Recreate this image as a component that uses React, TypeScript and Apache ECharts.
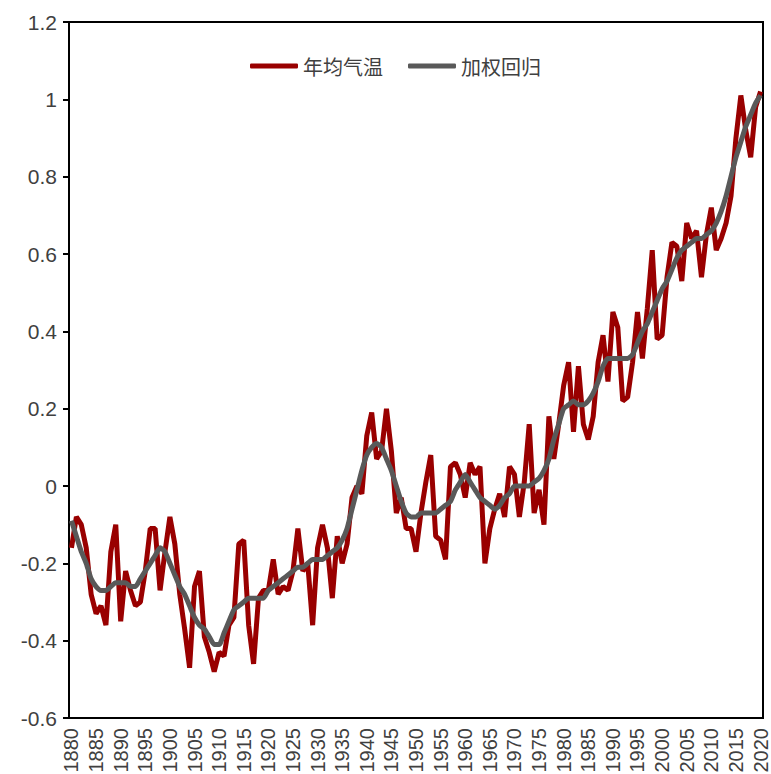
import React, { useEffect, useRef } from "react";
import * as echarts from "echarts";

const years: string[] = [];
for (let y = 1880; y <= 2020; y++) years.push(String(y));

const annualTemp: number[] = [
  -0.16, -0.08, -0.10, -0.16, -0.28, -0.33, -0.31, -0.36, -0.17, -0.10,
  -0.35, -0.22, -0.27, -0.31, -0.30, -0.22, -0.11, -0.11, -0.27, -0.17,
  -0.08, -0.15, -0.28, -0.37, -0.47, -0.26, -0.22, -0.39, -0.43, -0.48,
  -0.43, -0.44, -0.36, -0.34, -0.15, -0.14, -0.36, -0.46, -0.29, -0.27,
  -0.27, -0.19, -0.28, -0.26, -0.27, -0.22, -0.11, -0.22, -0.20, -0.36,
  -0.16, -0.10, -0.16, -0.29, -0.13, -0.20, -0.15, -0.03, -0.00, -0.02,
  0.13, 0.19, 0.07, 0.09, 0.20, 0.09, -0.07, -0.03, -0.11, -0.11,
  -0.17, -0.07, 0.01, 0.08, -0.13, -0.14, -0.19, 0.05, 0.06, 0.03,
  -0.03, 0.06, 0.03, 0.05, -0.20, -0.11, -0.06, -0.02, -0.08, 0.05,
  0.03, -0.08, 0.01, 0.16, -0.07, -0.01, -0.10, 0.18, 0.07, 0.16,
  0.26, 0.32, 0.14, 0.31, 0.16, 0.12, 0.18, 0.32, 0.39, 0.27,
  0.45, 0.41, 0.22, 0.23, 0.32, 0.45, 0.33, 0.46, 0.61, 0.38,
  0.39, 0.54, 0.63, 0.62, 0.53, 0.68, 0.64, 0.66, 0.54, 0.65,
  0.72, 0.61, 0.64, 0.68, 0.75, 0.90, 1.01, 0.92, 0.85, 0.98,
  1.02,
];

const weightedRegression: number[] = [
  -0.09, -0.13, -0.17, -0.20, -0.24, -0.26, -0.27, -0.27, -0.26, -0.25,
  -0.25, -0.25, -0.26, -0.26, -0.24, -0.22, -0.20, -0.18, -0.16, -0.17,
  -0.20, -0.23, -0.26, -0.28, -0.31, -0.34, -0.36, -0.37, -0.39, -0.41,
  -0.41, -0.38, -0.35, -0.32, -0.31, -0.30, -0.29, -0.29, -0.29, -0.29,
  -0.27, -0.26, -0.25, -0.24, -0.23, -0.22, -0.21, -0.21, -0.20, -0.19,
  -0.19, -0.19, -0.18, -0.17, -0.16, -0.14, -0.11, -0.06, -0.01, 0.04,
  0.08, 0.10, 0.11, 0.10, 0.07, 0.04, 0.00, -0.04, -0.07, -0.08,
  -0.08, -0.07, -0.07, -0.07, -0.07, -0.06, -0.05, -0.04, -0.01, 0.01,
  0.03, 0.01, -0.01, -0.03, -0.04, -0.05, -0.06, -0.05, -0.03, -0.02,
  0.00, 0.00, 0.00, 0.00, 0.01, 0.02, 0.04, 0.07, 0.12, 0.16,
  0.20, 0.21, 0.22, 0.21, 0.21, 0.22, 0.24, 0.27, 0.31, 0.33,
  0.33, 0.33, 0.33, 0.33, 0.34, 0.37, 0.40, 0.42, 0.45, 0.48,
  0.51, 0.53, 0.56, 0.59, 0.61, 0.62, 0.63, 0.64, 0.64, 0.65,
  0.66, 0.68, 0.71, 0.75, 0.80, 0.85, 0.89, 0.93, 0.96, 0.99,
  1.01,
];

const yTicks = { min: -0.6, max: 1.2, interval: 0.2 };

export default function App() {
  const ref = useRef<HTMLDivElement>(null);
  useEffect(() => {
    if (!ref.current) return;
    const chart = echarts.init(ref.current, undefined, { renderer: "svg" });
    const textColor = "#404040";
    chart.setOption({
      animation: false,
      backgroundColor: "#ffffff",
      grid: {
        left: 69,
        top: 22,
        right: 8,
        bottom: 56,
        containLabel: false,
        outerBoundsMode: "none",
        show: true,
        borderColor: "#000",
        borderWidth: 2,
      },
      legend: {
        left: 245,
        top: 51,
        icon: "roundRect",
        itemWidth: 48,
        itemHeight: 5,
        itemGap: 25,
        textStyle: {
          fontSize: 20,
          color: textColor,
          fontFamily: "Noto Sans CJK SC",
          padding: [0, 0, 0, 0],
        },
        data: ["年均气温", "加权回归"],
      },
      xAxis: {
        type: "category",
        data: years,
        boundaryGap: true,
        axisLine: { show: true, onZero: false, lineStyle: { color: "#000", width: 2 } },
        axisTick: { show: false },
        axisLabel: {
          interval: 4,
          rotate: 90,
          margin: 10,
          fontSize: 20,
          color: textColor,
          fontFamily: "Liberation Sans",
        },
        splitLine: { show: false },
      },
      yAxis: {
        type: "value",
        min: yTicks.min,
        max: yTicks.max,
        interval: yTicks.interval,
        axisLine: { show: true, lineStyle: { color: "#000", width: 2 } },
        axisTick: { show: true, length: 6, lineStyle: { color: "#000", width: 2 } },
        axisLabel: {
          margin: 12,
          fontSize: 21,
          color: textColor,
          fontFamily: "Liberation Sans",
          formatter: (v: number) => String(Math.round(v * 10) / 10),
        },
        splitLine: { show: false },
      },
      series: [
        {
          name: "年均气温",
          type: "line",
          data: annualTemp,
          symbol: "none",
          lineStyle: { color: "#990000", width: 5 },
          itemStyle: { color: "#990000" },
        },
        {
          name: "加权回归",
          type: "line",
          data: weightedRegression,
          symbol: "none",
          smooth: 0.2,
          lineStyle: { color: "#595959", width: 5 },
          itemStyle: { color: "#595959" },
        },
      ],
    });
    return () => chart.dispose();
  }, []);
  return (
    <div
      ref={ref}
      style={{ position: "fixed", left: 0, top: 0, width: 771, height: 774, background: "#fff" }}
    />
  );
}
